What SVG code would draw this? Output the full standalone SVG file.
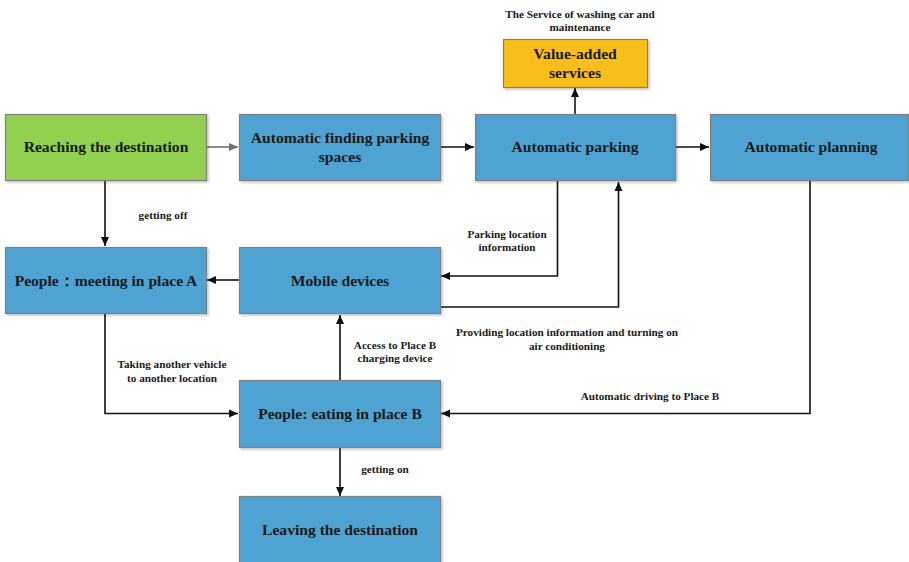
<svg xmlns="http://www.w3.org/2000/svg" width="909" height="562" viewBox="0 0 909 562">
<style>
.box{stroke:#808080;stroke-width:1.2}
.blue{fill:#4FA3D2}
.green{fill:#92D050}
.yellow{fill:#F9BD1F}
text{font-family:'Liberation Serif','Times New Roman',serif;font-weight:bold;fill:#1a1a1a;text-anchor:middle}
.t{font-size:15.6px}
.l{font-size:11.2px}
.c{fill:none;stroke:#111;stroke-width:1.6}
.g{fill:none;stroke:#707070;stroke-width:1.6}
</style>
<defs>
<filter id="sh" x="-5%" y="-5%" width="115%" height="115%"><feDropShadow dx="1.5" dy="1.5" stdDeviation="0.8" flood-color="#000" flood-opacity="0.25"/></filter>
<marker id="a" markerWidth="10" markerHeight="10" refX="9" refY="5" orient="auto" markerUnits="userSpaceOnUse"><path d="M0,1 L9,5 L0,9 Z" fill="#111"/></marker>
<marker id="ag" markerWidth="10" markerHeight="10" refX="9" refY="5" orient="auto" markerUnits="userSpaceOnUse"><path d="M0,1 L9,5 L0,9 Z" fill="#707070"/></marker>
</defs>
<rect width="909" height="562" fill="#fff"/>

<g id="connectors">
<path class="g" d="M206,147 H238" marker-end="url(#ag)"/>
<path class="c" d="M440,147 H474" marker-end="url(#a)"/>
<path class="c" d="M675,147 H709" marker-end="url(#a)"/>
<path class="c" d="M575,114 V88" marker-end="url(#a)"/>
<path class="c" d="M105,181 V246" marker-end="url(#a)"/>
<path class="c" d="M239,280 H207" marker-end="url(#a)"/>
<path class="c" d="M557.5,181 V276 H441" marker-end="url(#a)"/>
<path class="c" d="M440,307 H618.5 V182" marker-end="url(#a)"/>
<path class="c" d="M810,181 V413.5 H441" marker-end="url(#a)"/>
<path class="c" d="M105,314 V413.5 H238" marker-end="url(#a)"/>
<path class="c" d="M340,381 V315" marker-end="url(#a)"/>
<path class="c" d="M340,447 V496" marker-end="url(#a)"/>
<text class="l" x="163" y="219">getting off</text>
<text class="l" x="507" y="238">Parking location</text>
<text class="l" x="507" y="251">information</text>
<text class="l" x="567" y="336">Providing location information and turning on</text>
<text class="l" x="567" y="350">air conditioning</text>
<text class="l" x="650" y="400">Automatic driving to Place B</text>
<text class="l" x="172" y="368">Taking another vehicle</text>
<text class="l" x="172" y="382">to another location</text>
<text class="l" x="395" y="349">Access to Place B</text>
<text class="l" x="395" y="362">charging device</text>
<text class="l" x="385" y="473">getting on</text>
<text class="l" x="580" y="18">The Service of washing car and</text>
<text class="l" x="580" y="31">maintenance</text>
</g>

<g id="reaching">
<rect class="box green" filter="url(#sh)" x="5.5" y="114.5" width="201" height="66"/>
<text class="t" x="106" y="152">Reaching the destination</text>
</g>
<g id="finding">
<rect class="box blue" filter="url(#sh)" x="239.5" y="114.5" width="201" height="66"/>
<text class="t" x="340" y="143">Automatic finding parking</text>
<text class="t" x="340" y="162">spaces</text>
</g>
<g id="parking">
<rect class="box blue" filter="url(#sh)" x="475.5" y="114.5" width="200" height="66"/>
<text class="t" x="575" y="152">Automatic parking</text>
</g>
<g id="planning">
<rect class="box blue" filter="url(#sh)" x="710.5" y="114.5" width="198" height="66"/>
<text class="t" x="811" y="152">Automatic planning</text>
</g>
<g id="value">
<rect class="box yellow" filter="url(#sh)" x="503.5" y="39.5" width="144" height="48"/>
<text class="t" x="575" y="59">Value-added</text>
<text class="t" x="575" y="78">services</text>
</g>
<g id="peopleA">
<rect class="box blue" filter="url(#sh)" x="5.5" y="247.5" width="201" height="66"/>
<text class="t" x="106" y="286">People：meeting in place A</text>
</g>
<g id="mobile">
<rect class="box blue" filter="url(#sh)" x="239.5" y="247.5" width="201" height="66"/>
<text class="t" x="340" y="286">Mobile devices</text>
</g>
<g id="peopleB">
<rect class="box blue" filter="url(#sh)" x="239.5" y="380.5" width="201" height="67"/>
<text class="t" x="340" y="419">People: eating in place B</text>
</g>
<g id="leaving">
<rect class="box blue" filter="url(#sh)" x="239.5" y="496.5" width="201" height="70"/>
<text class="t" x="340" y="535">Leaving the destination</text>
</g>
</svg>
